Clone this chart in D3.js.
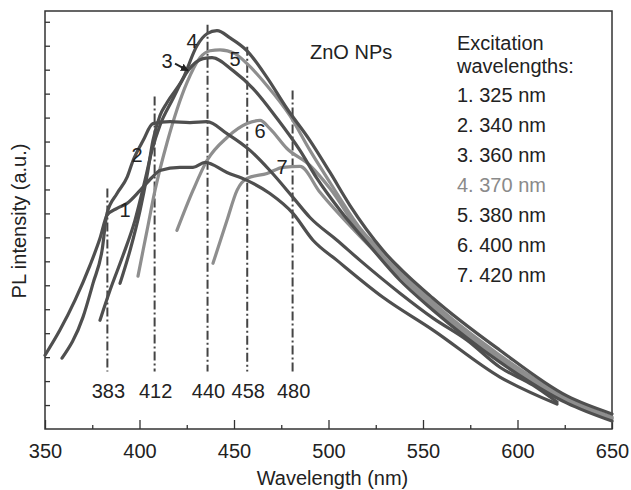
<!DOCTYPE html>
<html lang="en">
<head>
<meta charset="utf-8">
<title>ZnO NPs PL spectra</title>
<script src="https://d3js.org/d3.v7.min.js"></script>
<style>
  body { margin: 0; background: #fff; }
  svg text { font-family: "Liberation Sans", Arial, Helvetica, sans-serif; fill: #222; }
</style>
</head>
<body>
<script>
// spectra: [wavelength nm, intensity a.u.]
var curve1 = [[350,3.08],[357.9,4.13],[365.9,5.38],[373.8,6.83],[379.1,7.96],[382.8,8.92],[388.1,9.21],[393.4,9.42],[400.3,9.96],[406.6,10.5],[410.8,10.79],[421.4,10.92],[428.3,10.92],[434.7,11.13],[446.3,10.71],[456.9,10.38],[469,9.83],[481.2,9.0],[491.8,7.88],[504.5,7.04],[528.8,5.5],[555.3,4.13],[590.7,2.17],[620.9,1.04]];
var curve2 = [[359,2.96],[370.1,4.67],[375.4,6.08],[380.2,7.46],[382.8,9.0],[388.1,9.83],[393.4,10.5],[396.6,11.21],[401.9,12.04],[407.1,12.75],[416.1,12.83],[426.7,12.79],[435.7,12.83],[446.3,12.33],[458.5,11.63],[469,10.79],[481.2,9.67],[490.2,8.83],[504.5,7.88],[516.7,7.04],[537.8,5.67],[555.3,4.63],[573.3,3.71],[590.7,2.58],[608.2,1.83],[620.9,1.13]];
var curve3 = [[379.1,4.54],[384.4,5.79],[391.3,7.25],[397.6,8.71],[402.9,10.38],[406.6,11.63],[410.8,12.67],[417.2,13.71],[425.7,14.96],[433.6,15.46],[438.4,15.5],[449.5,14.96],[460.1,14.21],[472.8,12.96],[484.9,11.63],[493.9,10.46],[506.1,9.13],[522,7.63],[537.8,6.21],[555.3,4.96],[590.7,2.79],[626.2,1.08],[650,0.33]];
var curve4 = [[389.7,6.08],[395,7.46],[400.3,9.13],[404,10.58],[407.1,12.04],[410.8,13.08],[414.6,13.63],[423,14.63],[430.4,16.0],[435.7,16.5],[441,16.63],[447.9,16.33],[456.9,15.79],[467.5,14.67],[478,13.38],[490.2,12.04],[500.8,10.71],[511.4,9.33],[528.8,7.46],[555.3,5.46],[590.7,3.29],[626.2,1.38],[650,0.63]];
var curve5 = [[399.2,6.38],[401.9,7.46],[404,8.29],[408.2,9.96],[414.6,11.96],[425.1,14.46],[432,15.5],[437.3,15.79],[442.6,15.83],[450.5,15.67],[456.9,15.25],[467.5,14.33],[479.6,13.08],[490.2,11.63],[500.8,10.29],[516.7,8.38],[537.8,6.71],[555.3,5.29],[590.7,3.08],[626.2,1.29],[650,0.5]];
var curve6 = [[419.8,8.29],[428.3,9.96],[435.7,11.21],[446.3,12.17],[456.9,12.75],[463.8,12.88],[469,12.54],[478,11.71],[490.2,11.0],[500.8,10.04],[516.7,8.21],[537.8,6.54],[555.3,5.17],[590.7,3.0],[626.2,1.21],[650,0.46]];
var curve7 = [[438.9,6.92],[446.3,8.71],[451.6,9.96],[456.9,10.46],[467.5,10.67],[475.9,10.92],[484.9,10.96],[495.5,9.88],[516.7,8.04],[537.8,6.38],[555.3,5.04],[590.7,2.88],[626.2,1.17],[650,0.42]];

var curves = [curve1, curve2, curve3, curve4, curve5, curve6, curve7];
var curveShade = ["dark","dark","dark","dark","light","light","light"];

// curve number labels, placed in data units
var curveLabels = ["1","2","3","4","5","6","7"];
var curveLabelX = [392.3, 398.7, 414.6, 427.8, 450.5, 463.8, 475.4];
var curveLabelY = [9.13, 11.42, 15.38, 16.21, 15.46, 12.46, 10.92];

// peak marker lines
var peakPos = [383, 408, 436, 457, 481];
var peakText = ["383", "412", "440", "458", "480"];
var peakTop = [10.04, 13.88, 16.88, 15.96, 14.13];
var peakBottom = 2.4;

var legendTitle = ["Excitation", "wavelengths:"];
var legendItems = ["1. 325 nm", "2. 340 nm", "3. 360 nm", "4. 370 nm", "5. 380 nm", "6. 400 nm", "7. 420 nm"];

var xTicks = [350, 400, 450, 500, 550, 600, 650];
var xMinor = [375, 425, 475, 525, 575, 625];
var yTicks = d3.range(1, 18);

var W = 631, H = 490;
var margin = {left: 45, top: 11, right: 19, bottom: 61};
var pw = W - margin.left - margin.right,
    ph = H - margin.top - margin.bottom;

var svg = d3.select("body").append("svg")
    .attr("width", W)
    .attr("height", H);

var g = svg.append("g").attr("transform", "translate(" + margin.left + "," + margin.top + ")");

var x = d3.scaleLinear().domain([350, 650]).range([0, pw]);
var y = d3.scaleLinear().domain([0, 17.45]).range([ph, 0]);

// axes, ticks drawn inward
var xAxis = g.append("g").attr("transform", "translate(0," + ph + ")")
    .call(d3.axisBottom(x).tickValues(xTicks).tickSize(-9).tickPadding(15).tickFormat(d3.format("d")));
g.append("g").attr("transform", "translate(0," + ph + ")")
    .call(d3.axisBottom(x).tickValues(xMinor).tickSize(-4).tickFormat(""));
g.append("g").call(d3.axisLeft(y).tickValues(yTicks).tickSize(-5).tickFormat(""));

g.selectAll(".domain").remove();
g.selectAll(".tick line").attr("stroke", "#333").attr("stroke-width", 1.3);
xAxis.selectAll("text").attr("font-size", 20).attr("fill", "#222");

// frame
g.append("rect")
    .attr("width", pw).attr("height", ph)
    .attr("fill", "none").attr("stroke", "#333").attr("stroke-width", 1.5);

// peak lines
g.selectAll(".peak").data(peakPos).enter().append("line")
    .attr("x1", function(d){ return x(d); })
    .attr("x2", function(d){ return x(d); })
    .attr("y1", function(d, i){ return y(peakTop[i]); })
    .attr("y2", y(peakBottom))
    .attr("stroke", "#444")
    .attr("stroke-width", 2)
    .attr("stroke-dasharray", "9,3,2,3");

g.selectAll(".peakLabel").data(peakPos).enter().append("text")
    .attr("x", function(d){ return x(d) + 1; })
    .attr("y", y(peakBottom) + 26)
    .attr("text-anchor", "middle")
    .attr("font-size", 20)
    .text(function(d, i){ return peakText[i]; });

// spectra
var line = d3.line()
    .x(function(d){ return x(d[0]); })
    .y(function(d){ return y(d[1]); })
    .curve(d3.curveMonotoneX);

var order = [4, 5, 6, 0, 1, 2, 3]; // gray ones underneath
g.selectAll(".spec").data(order).enter().append("path")
    .attr("d", function(i){ return line(curves[i]); })
    .attr("fill", "none")
    .attr("stroke", function(i){ return curveShade[i] == "dark" ? "#4f4f4f" : "#8e8e8e"; })
    .attr("stroke-width", 3.2)
    .attr("stroke-linecap", "round");

// curve number labels
g.selectAll(".clab").data(curveLabels).enter().append("text")
    .attr("x", function(d, i){ return x(curveLabelX[i]); })
    .attr("y", function(d, i){ return y(curveLabelY[i]); })
    .attr("dy", "0.35em")
    .attr("text-anchor", "middle")
    .attr("font-size", 20)
    .text(function(d){ return d; });

// small arrow pointing at curve 3
svg.append("defs").append("marker")
    .attr("id", "arr").attr("viewBox", "0 0 10 10")
    .attr("refX", 9).attr("refY", 5)
    .attr("markerWidth", 4).attr("markerHeight", 4)
    .attr("orient", "auto")
    .append("path").attr("d", "M0,0L10,5L0,10z").attr("fill", "#222");
g.append("line")
    .attr("x1", x(418.8)).attr("y1", y(15.25))
    .attr("x2", x(425.7)).attr("y2", y(14.96))
    .attr("stroke", "#222").attr("stroke-width", 2)
    .attr("marker-end", "url(#arr)");

// annotations
svg.append("text").attr("x", 310).attr("y", 59).attr("font-size", 20).text("ZnO NPs");

svg.selectAll(".lt").data(legendTitle).enter().append("text")
    .attr("x", 457).attr("y", function(d, i){ return 50 + i * 23; })
    .attr("font-size", 20)
    .text(function(d){ return d; });

svg.selectAll(".li").data(legendItems).enter().append("text")
    .attr("x", 457).attr("y", function(d, i){ return 102 + i * 30; })
    .attr("font-size", 20)
    .style("fill", function(d, i){ return i == 3 ? "#8a8a8a" : "#222"; })
    .text(function(d){ return d; });

// axis titles
svg.append("text")
    .attr("x", margin.left + pw / 2 + 4).attr("y", 485)
    .attr("text-anchor", "middle").attr("font-size", 20)
    .text("Wavelength (nm)");

svg.append("text")
    .attr("transform", "translate(26," + 221 + ") rotate(-90)")
    .attr("text-anchor", "middle").attr("font-size", 20)
    .text("PL intensity (a.u.)");
</script>
</body>
</html>
